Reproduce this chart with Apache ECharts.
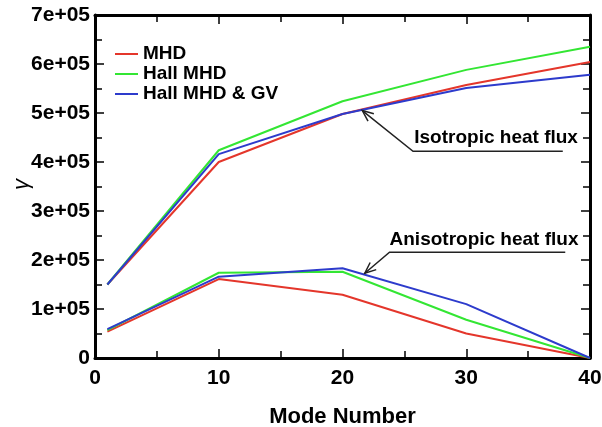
<!DOCTYPE html>
<html>
<head>
<meta charset="utf-8">
<script src="https://cdn.jsdelivr.net/npm/echarts@6/dist/echarts.min.js"></script>
<style>
  html, body { margin: 0; padding: 0; background: #fff; }
  #chart { width: 602px; height: 427px; }
</style>
</head>
<body>
<div id="chart"></div>
<script>
// 数据：模式编号与增长率
const modes = [1, 10, 20, 30, 40];

// 各向同性热流
const isoMHD = [1.5e5, 4.0e5, 4.98e5, 5.57e5, 6.04e5];
const isoHall = [1.5e5, 4.24e5, 5.24e5, 5.88e5, 6.35e5];
const isoHallGV = [1.5e5, 4.16e5, 4.98e5, 5.51e5, 5.78e5];

// 各向异性热流
const anisoMHD = [0.54e5, 1.61e5, 1.29e5, 0.50e5, 0];
const anisoHall = [0.57e5, 1.74e5, 1.76e5, 0.78e5, 0];
const anisoHallGV = [0.59e5, 1.66e5, 1.83e5, 1.10e5, 0];

const names = ['MHD', 'Hall MHD', 'Hall MHD & GV'];
const colors = ['#e4362b', '#33e633', '#2d3bcc'];
const yTicks = ['0', '1e+05', '2e+05', '3e+05', '4e+05', '5e+05', '6e+05', '7e+05'];

const font = '"Liberation Sans", Arial, sans-serif';

function pairs(vals) {
    return modes.map((m, i) => [m, vals[i]]);
}

function makeSeries(name, color, vals) {
    return {
        name: name,
        type: 'line',
        data: pairs(vals),
        symbol: 'none',
        lineStyle: { color: color, width: 2 },
        itemStyle: { color: color },
        animation: false,
        z: 3
    };
}

const chart = echarts.init(document.getElementById('chart'));

// 边框轴的公共样式（刻度朝内）
function frameAxis(extra) {
    return Object.assign({
        axisLine: { show: true, onZero: false, lineStyle: { color: '#000', width: 3 } },
        axisTick: { show: true, inside: true, length: 9, lineStyle: { color: '#000', width: 1.5 } },
        minorTick: { show: true, splitNumber: 2, length: 7, lineStyle: { color: '#000', width: 1.5 } },
        splitLine: { show: false }
    }, extra);
}

chart.setOption({
    animation: false,
    backgroundColor: '#fff',
    grid: { left: 95, right: 12, top: 15, bottom: 69, outerBoundsMode: 'none', containLabel: false },
    legend: {
        data: names,
        orient: 'vertical',
        left: 110,
        top: 39,
        icon: 'rect',
        itemWidth: 23,
        itemHeight: 2,
        itemGap: 0,
        textStyle: { fontFamily: font, fontWeight: 'bold', fontSize: 19, color: '#000', lineHeight: 20 }
    },
    xAxis: [
        frameAxis({
            type: 'value', min: 0, max: 40, interval: 10, position: 'bottom',
            name: 'Mode Number',
            nameLocation: 'middle',
            nameGap: 48,
            nameTextStyle: { fontFamily: font, fontWeight: 'bold', fontSize: 22, color: '#000' },
            axisLabel: { fontFamily: font, fontWeight: 'bold', fontSize: 21, color: '#000', margin: 10 }
        }),
        frameAxis({
            type: 'value', min: 0, max: 40, interval: 10, position: 'top',
            axisLabel: { show: false }
        })
    ],
    yAxis: [
        frameAxis({
            type: 'value', min: 0, max: 7e5, interval: 1e5, position: 'left',
            axisLabel: {
                fontFamily: font, fontWeight: 'bold', fontSize: 21, color: '#000', margin: 5,
                formatter: v => yTicks[Math.round(v / 1e5)]
            }
        }),
        frameAxis({
            type: 'value', min: 0, max: 7e5, interval: 1e5, position: 'right',
            axisLabel: { show: false }
        })
    ],
    series: [
        makeSeries(names[0], colors[0], isoMHD),
        makeSeries(names[1], colors[1], isoHall),
        makeSeries(names[2], colors[2], isoHallGV),
        makeSeries(names[0], colors[0], anisoMHD),
        makeSeries(names[1], colors[1], anisoHall),
        makeSeries(names[2], colors[2], anisoHallGV)
    ]
});

// 注释：箭头 + 下划线 + 文字
const notes = [
    { text: 'Isotropic heat flux', tip: [21.6, 5.05e5], elbow: [25.7, 4.22e5], end: [37.8, 4.22e5], label: [25.8, 4.49e5] },
    { text: 'Anisotropic heat flux', tip: [21.8, 1.73e5], elbow: [23.8, 2.16e5], end: [38.0, 2.16e5], label: [23.8, 2.41e5] }
];

function px(p) {
    return chart.convertToPixel({ xAxisIndex: 0, yAxisIndex: 0 }, p);
}

const graphics = [];
notes.forEach(n => {
    const t = px(n.tip), e = px(n.elbow), d = px(n.end), l = px(n.label);
    graphics.push({
        type: 'polyline',
        shape: { points: [t, e, d] },
        style: { stroke: '#222', lineWidth: 1.5, fill: null },
        z: 10
    });
    const ang = Math.atan2(e[1] - t[1], e[0] - t[0]);
    const len = 12, spread = 0.4;
    graphics.push({
        type: 'polyline',
        shape: {
            points: [
                [t[0] + len * Math.cos(ang + spread), t[1] + len * Math.sin(ang + spread)],
                t,
                [t[0] + len * Math.cos(ang - spread), t[1] + len * Math.sin(ang - spread)]
            ]
        },
        style: { stroke: '#222', lineWidth: 1.5, fill: null },
        z: 10
    });
    graphics.push({
        type: 'text',
        x: l[0],
        y: l[1],
        style: {
            text: n.text,
            font: 'bold 19px ' + font,
            fill: '#000',
            textVerticalAlign: 'middle',
            textAlign: 'left'
        },
        z: 10
    });
});

// y 轴名称 γ（旋转）
const yMid = px([0, 3.5e5]);
graphics.push({
    type: 'text',
    x: 22,
    y: yMid[1] - 2,
    rotation: Math.PI / 2,
    style: {
        text: 'γ',
        font: 'italic 22px ' + font,
        fill: '#000',
        textAlign: 'center',
        textVerticalAlign: 'middle'
    },
    z: 10
});

chart.setOption({ graphic: graphics });
</script>
</body>
</html>
